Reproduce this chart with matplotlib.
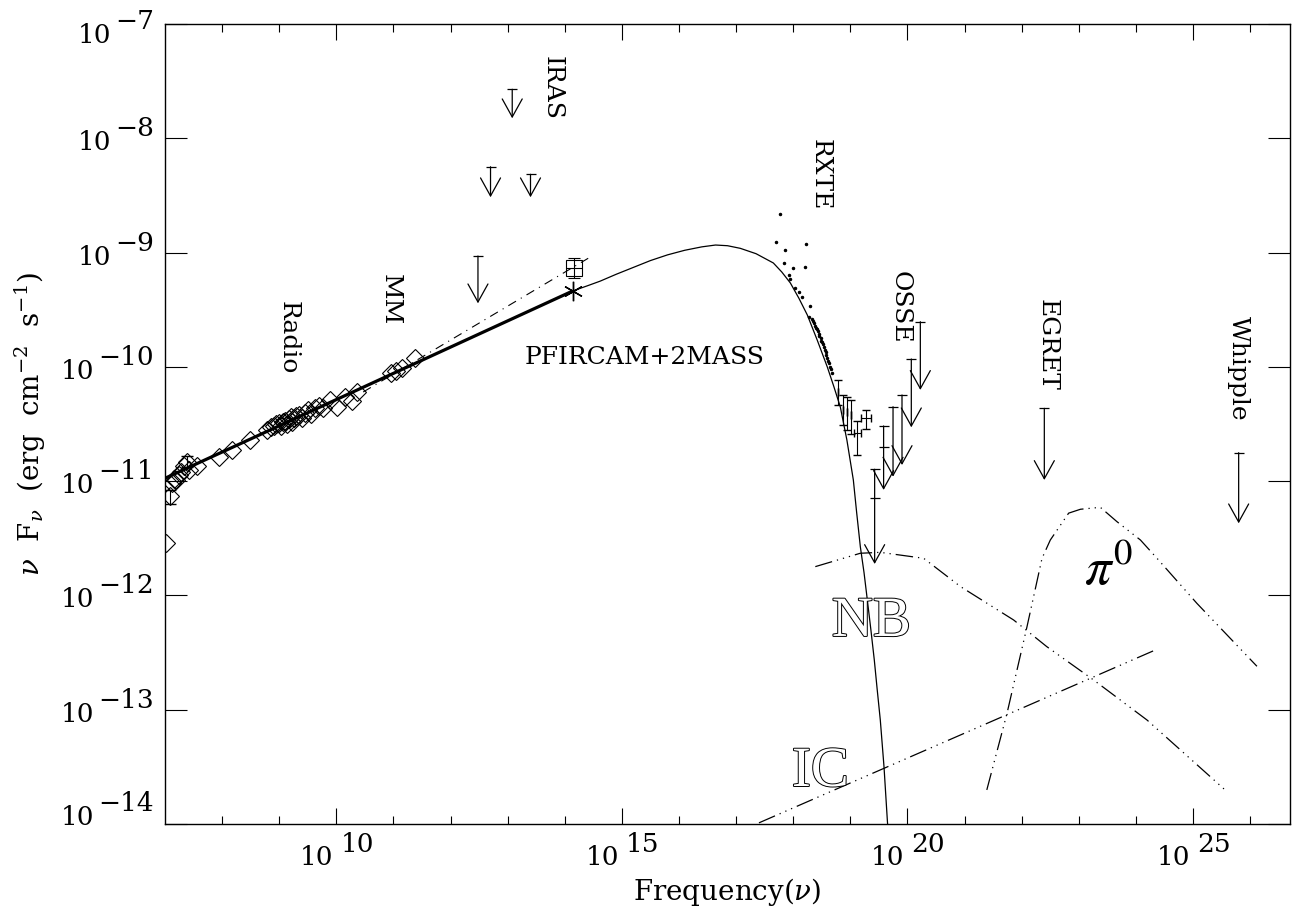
import numpy as np
import matplotlib.pyplot as plt
import matplotlib.patheffects as pe
from matplotlib.ticker import FixedLocator, NullLocator

plt.rcParams['font.family'] = ['DejaVu Serif']
plt.rcParams['mathtext.fontset'] = 'dejavuserif'

# all values are log10(nu / Hz) and log10(nuFnu / erg cm^-2 s^-1)
radio_lognu = [7.01, 7.09, 7.12, 7.15, 7.20, 7.24, 7.28, 7.33, 7.385, 7.42,
               7.56, 7.94, 8.17, 8.49, 8.79, 8.85, 8.90, 8.95, 9.00, 9.03,
               9.07, 9.10, 9.13, 9.17, 9.20, 9.22, 9.26, 9.30, 9.35, 9.40,
               9.45, 9.50, 9.55, 9.62, 9.70, 9.77, 9.895, 10.01, 10.16, 10.27,
               10.36, 10.95, 11.05, 11.15, 11.38]
radio_logf = [-11.54, -11.13, -11.02, -10.98, -10.99, -10.95, -10.92, -10.87, -10.83, -10.90,
              -10.87, -10.79, -10.73, -10.64, -10.55, -10.53, -10.52, -10.50, -10.49, -10.52,
              -10.48, -10.47, -10.50, -10.46, -10.44, -10.48, -10.45, -10.43, -10.42, -10.45,
              -10.40, -10.38, -10.41, -10.36, -10.34, -10.36, -10.29, -10.35, -10.26, -10.30,
              -10.22, -10.056, -10.04, -10.01, -9.925]
radio_err_lognu = [7.09, 7.385]
radio_err_logf = [-11.13, -10.83]
radio_err_lo = [-11.20, -10.875]
radio_err_hi = [-11.077, -10.78]

fit_lognu = [7.0, 14.14]
fit_logf = [-10.975, -9.336]
extrap_lognu = [10.47, 14.41]
extrap_logf = [-10.22, -9.05]

nir_lognu = [14.14]
nir_logf = [-9.336]
sq_lognu = [14.17]
sq_logf = [-9.135]
sq_lo = [-9.22]
sq_hi = [-9.05]

sync_lognu = [14.14, 14.4, 14.62, 14.9, 15.2, 15.5, 15.8, 16.1, 16.4, 16.64, 16.85,
              17.074, 17.35, 17.652, 17.8, 17.95, 18.1, 18.247, 18.42, 18.597, 18.71,
              18.825, 18.94, 19.053, 19.11, 19.176, 19.24, 19.298, 19.36, 19.42,
              19.47, 19.525, 19.59, 19.648, 19.66]
sync_logf = [-9.336, -9.29, -9.25, -9.19, -9.13, -9.07, -9.02, -8.98, -8.95, -8.934, -8.94,
             -8.963, -9.01, -9.091, -9.17, -9.266, -9.40, -9.546, -9.765, -10.001, -10.17,
             -10.351, -10.64, -10.99, -11.27, -11.576, -11.80, -12.04, -12.30, -12.565,
             -12.82, -13.09, -13.50, -13.965, -14.05]

rxte_lognu = [17.774, 17.699, 17.864, 18.224, 17.832, 17.990, 18.200, 17.920, 17.950,
              18.037, 18.095, 18.154, 18.288, 18.270, 18.33, 18.35, 18.37, 18.39,
              18.40, 18.42, 18.43, 18.45, 18.46, 18.48, 18.49, 18.51, 18.52, 18.54,
              18.55, 18.57, 18.58, 18.60, 18.61, 18.63, 18.64, 18.66, 18.68]
rxte_logf = [-8.665, -8.910, -8.977, -8.928, -9.089, -9.132, -9.129, -9.196, -9.231,
             -9.307, -9.342, -9.386, -9.467, -9.561, -9.58, -9.60, -9.62, -9.64,
             -9.66, -9.67, -9.69, -9.71, -9.73, -9.75, -9.77, -9.78, -9.80, -9.83,
             -9.85, -9.87, -9.90, -9.92, -9.95, -9.97, -10.0, -10.02, -10.05]

hx_lognu = [18.79, 18.878, 18.948, 19.018, 19.123, 19.28]
hx_logf = [-10.22, -10.377, -10.395, -10.42, -10.58, -10.447]
hx_lo = [-10.33, -10.51, -10.55, -10.59, -10.77, -10.54]
hx_hi = [-10.115, -10.246, -10.26, -10.29, -10.47, -10.377]
hx_xdex = [0.0, 0.0, 0.0, 0.0, 0.06, 0.09]

# upper limits: IRAS, MM, OSSE, EGRET, Whipple
ul_lognu = [13.08, 12.70, 13.40, 12.48, 20.226, 20.068, 19.905, 19.748, 19.583, 19.426, 22.397, 25.80]
ul_top = [-7.571, -8.249, -8.315, -9.030, -9.605, -9.931, -10.246, -10.349, -10.517, -10.896, -10.363, -10.751]
ul_tip = [-7.825, -8.516, -8.516, -9.444, -10.202, -10.529, -10.859, -10.961, -11.077, -11.725, -10.99, -11.369]
ul_bar_lognu = [19.583, 19.426]
ul_bar_logf = [-10.698, -11.15]

nb_lognu = [18.387, 19.175, 19.525, 20.284, 20.93, 21.86, 22.44, 23.26, 24.195, 25.596]
nb_logf = [-11.748, -11.631, -11.623, -11.675, -11.923, -12.215, -12.448, -12.74, -13.09, -13.717]
pi0_lognu = [21.39, 21.744, 22.094, 22.357, 22.502, 22.823, 23.03, 23.378, 23.67, 24.08, 24.37, 25.07, 26.12]
pi0_logf = [-13.702, -13.031, -12.273, -11.675, -11.515, -11.28, -11.246, -11.229, -11.355, -11.515, -11.675, -12.07, -12.62]
ic_lognu = [17.40, 24.37]
ic_logf = [-13.99, -12.471]

xtick_exp = [10, 15, 20, 25]
ytick_exp = [-7, -8, -9, -10, -11, -12, -13, -14]


def p(a):
    return 10.0 ** np.asarray(a, dtype=float)


def yerr(logv, lo, hi):
    v = p(logv)
    return [v - p(lo), p(hi) - v]


fig = plt.figure(figsize=(12.98, 9.15), dpi=100)
ax = fig.add_axes([165 / 1298, 1 - 824 / 915, 1125 / 1298, 800 / 915])
ax.set_xscale('log')
ax.set_yscale('log')
ax.set_xlim(1e7, 5e26)
ax.set_ylim(1e-14, 1e-7)

dash4 = (14, 4, 1, 4, 1, 4, 1, 4)

# radio data and power-law fit
ax.plot(p(radio_lognu), p(radio_logf), ls='none', marker='D', ms=9.5, mfc='none',
        mec='k', mew=0.8)
ax.errorbar(p(radio_err_lognu), p(radio_err_logf),
            yerr=yerr(radio_err_logf, radio_err_lo, radio_err_hi),
            fmt='none', ecolor='k', elinewidth=0.8, capsize=4)
ax.plot(p(fit_lognu), p(fit_logf), color='k', lw=2.3, solid_capstyle='butt')
ax.plot(p(extrap_lognu), p(extrap_logf), color='k', lw=0.8, dashes=(8, 5, 1, 5))

# near-IR points
ax.plot(p(nir_lognu), p(nir_logf), ls='none', marker=(6, 2, 0), ms=14, mew=1.0, color='k')
ax.errorbar(p(sq_lognu), p(sq_logf), yerr=yerr(sq_logf, sq_lo, sq_hi), fmt='s',
            ms=12, mfc='none', mec='k', mew=0.8, ecolor='k', elinewidth=0.8, capsize=4)
ax.plot(p(sq_lognu), p(sq_logf), ls='none', marker='_', ms=12, mew=0.8, color='k')

# synchrotron curve
ax.plot(p(sync_lognu), p(sync_logf), color='k', lw=0.9)

# X-ray data
ax.plot(p(rxte_lognu), p(rxte_logf), ls='none', marker='o', ms=1.5, color='k')
hx_x = p(hx_lognu)
ax.errorbar(hx_x, p(hx_logf), yerr=yerr(hx_logf, hx_lo, hx_hi),
            xerr=[hx_x - p(np.array(hx_lognu) - np.array(hx_xdex)),
                  p(np.array(hx_lognu) + np.array(hx_xdex)) - hx_x],
            fmt='none', ecolor='k', elinewidth=0.8, capsize=3)

# upper limits
for x, top, tip in zip(ul_lognu, ul_top, ul_tip):
    ax.annotate('', xy=(p(x), p(tip)), xytext=(p(x), p(top)),
                arrowprops=dict(arrowstyle='->,head_length=0.65,head_width=0.36',
                                lw=0.9, color='k', shrinkA=0, shrinkB=0,
                                mutation_scale=20))
ax.plot(p(ul_lognu), p(ul_top), ls='none', marker='_', ms=7, mew=0.9, color='k')
ax.plot(p(ul_bar_lognu), p(ul_bar_logf), ls='none', marker='_', ms=7, mew=0.9, color='k')

# gamma-ray models
ax.plot(p(nb_lognu), p(nb_logf), color='k', lw=0.9, dashes=dash4)
ax.plot(p(pi0_lognu), p(pi0_logf), color='k', lw=0.9, dashes=dash4)
ax.plot(p(ic_lognu), p(ic_logf), color='k', lw=0.9, dashes=dash4)

# labels on the plot
lab_kw = dict(fontsize=18, rotation=-90, ha='center', va='center')
ax.text(p(13.777), p(-7.56), 'IRAS', **lab_kw)
ax.text(p(10.946), p(-9.415), 'MM', **lab_kw)
ax.text(p(9.16), p(-9.747), 'Radio', **lab_kw)
ax.text(p(18.475), p(-8.321), 'RXTE', **lab_kw)
ax.text(p(19.876), p(-9.476), 'OSSE', **lab_kw)
ax.text(p(22.45), p(-9.809), 'EGRET', **lab_kw)
ax.text(p(25.794), p(-10.01), 'Whipple', **lab_kw)
ax.text(p(15.393), p(-9.922), 'PFIRCAM+2MASS', fontsize=18, ha='center', va='center')

hollow = [pe.Stroke(linewidth=1.4, foreground='k'), pe.Normal()]
ax.text(p(19.368), p(-12.232), 'NB', fontsize=41, color='white', ha='center',
        va='center', path_effects=hollow, family='Liberation Serif')
ax.text(p(18.475), p(-13.545), 'IC', fontsize=41, color='white', ha='center',
        va='center', path_effects=hollow, family='Liberation Serif')
ax.text(p(23.52), p(-11.786), r'$\pi^0$', fontsize=38, ha='center', va='center',
        math_fontfamily='stix')

# axes, ticks
for s in ax.spines.values():
    s.set_linewidth(1.0)
ax.xaxis.set_major_locator(FixedLocator(p(xtick_exp)))
ax.xaxis.set_minor_locator(FixedLocator(p(np.arange(8, 27))))
ax.yaxis.set_major_locator(FixedLocator(p(ytick_exp)))
ax.yaxis.set_minor_locator(NullLocator())
ax.tick_params(which='both', direction='in', top=True, right=True, width=0.8,
               labelbottom=False, labelleft=False)
ax.tick_params(axis='x', which='major', length=11.5)
ax.tick_params(axis='x', which='minor', length=5.8)
ax.tick_params(axis='y', which='major', length=15.8)

xt = ax.get_xaxis_transform()
for e in xtick_exp:
    ax.annotate('10', xy=(p(e), 0), xycoords=xt, xytext=(-3, -41),
                textcoords='offset pixels', ha='right', va='baseline', fontsize=19)
    ax.annotate(str(e), xy=(p(e), 0), xycoords=xt, xytext=(4, -28),
                textcoords='offset pixels', ha='left', va='baseline', fontsize=19)

yt = ax.get_yaxis_transform()
for e in ytick_exp:
    shift = -7 if e == -7 else (11 if e == -14 else 0)
    t = ax.annotate('\u2212' + str(-e), xy=(0, p(e)), xycoords=yt,
                    xytext=(-11, 2 + shift), textcoords='offset pixels',
                    ha='right', va='baseline', fontsize=19)
    ax.annotate('10', xy=(0, p(e)), xycoords=(t, yt), xytext=(-4, -12 + shift),
                textcoords='offset pixels', ha='right', va='baseline', fontsize=19)

fig.text(727 / 1298, 1 - 900 / 915, r'Frequency($\nu$)', ha='center', va='baseline',
         fontsize=20)
fig.text(30 / 1298, 1 - 424 / 915,
         r'$\nu$  F$_{\nu}$  (erg  cm$^{-2}$  s$^{-1}$)', rotation=90,
         ha='center', va='center', fontsize=20)

fig.savefig('out.png', dpi=100)
